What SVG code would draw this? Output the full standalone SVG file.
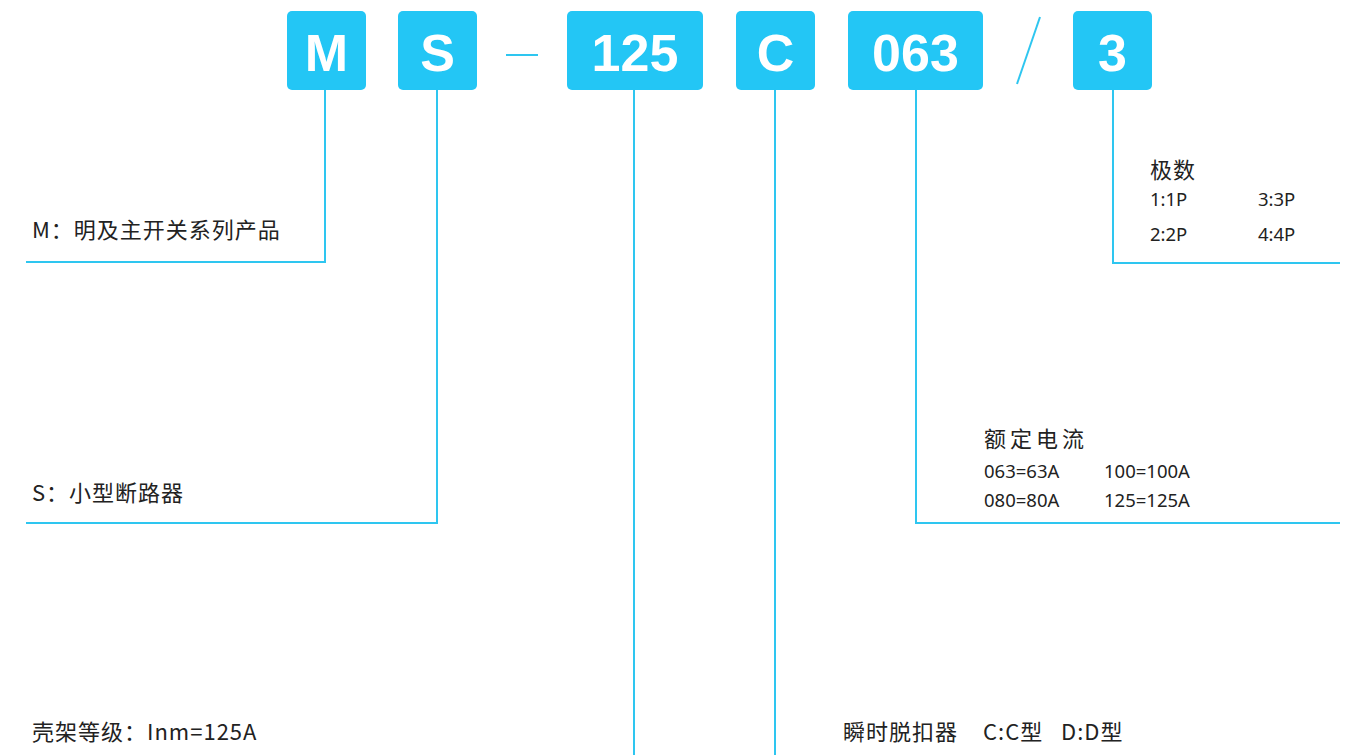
<svg xmlns="http://www.w3.org/2000/svg" width="1351" height="755" viewBox="0 0 1351 755">
<style>
.box{fill:#23c6f5}
.bt{fill:#fff;font-family:"Liberation Sans",Arial,sans-serif;font-weight:bold;font-size:52px;text-anchor:middle}
.ln{fill:none;stroke:#2ec6f0;stroke-width:2}
.t{fill:#222;font-family:"Noto Sans CJK SC","Noto Sans",sans-serif;font-size:22px;letter-spacing:1px}
.s{fill:#222;font-family:"Noto Sans","Noto Sans CJK SC",sans-serif;font-size:18.5px}
</style>
<rect width="1351" height="755" fill="#fff"/>
<g id="connectors">
<polyline class="ln" points="325,90 325,262 26,262"/>
<polyline class="ln" points="437,90 437,523 26,523"/>
<polyline class="ln" points="634,90 634,755"/>
<polyline class="ln" points="775,90 775,755"/>
<polyline class="ln" points="916,90 916,523 1340,523"/>
<polyline class="ln" points="1113,90 1113,263 1340,263"/>
<line class="ln" x1="506" y1="55" x2="538" y2="55" stroke-width="2.5"/>
<line class="ln" x1="1040" y1="17" x2="1017" y2="84" stroke-width="3"/>
</g>
<g id="box-M"><rect class="box" x="287" y="11" width="79" height="79" rx="5"/><text class="bt" x="326.5" y="71">M</text></g>
<g id="box-S"><rect class="box" x="398" y="11" width="79" height="79" rx="5"/><text class="bt" x="437.5" y="71">S</text></g>
<g id="box-125"><rect class="box" x="567" y="11" width="136" height="79" rx="5"/><text class="bt" x="635" y="71">125</text></g>
<g id="box-C"><rect class="box" x="736" y="11" width="79" height="79" rx="5"/><text class="bt" x="775.5" y="71">C</text></g>
<g id="box-063"><rect class="box" x="848" y="11" width="135" height="79" rx="5"/><text class="bt" x="915.5" y="71">063</text></g>
<g id="box-3"><rect class="box" x="1073" y="11" width="79" height="79" rx="5"/><text class="bt" x="1112.5" y="71">3</text></g>
<g id="label-M"><text class="t" x="32" y="238">M：明及主开关系列产品</text></g>
<g id="label-S"><text class="t" x="32" y="501">S：小型断路器</text></g>
<g id="label-125"><text class="t" x="32" y="740">壳架等级：Inm=125A</text></g>
<g id="label-C">
<text class="t" x="843" y="740">瞬时脱扣器</text>
<text class="t" x="983" y="740">C:C型</text>
<text class="t" x="1061" y="740">D:D型</text>
</g>
<g id="label-063">
<text class="t" x="984" y="447" style="letter-spacing:4px">额定电流</text>
<text class="s" x="984" y="478">063=63A</text><text class="s" x="1104" y="478">100=100A</text>
<text class="s" x="984" y="507">080=80A</text><text class="s" x="1104" y="507">125=125A</text>
</g>
<g id="label-3">
<text class="t" x="1150" y="178">极数</text>
<text class="s" x="1150" y="206">1:1P</text><text class="s" x="1258" y="206">3:3P</text>
<text class="s" x="1150" y="241">2:2P</text><text class="s" x="1258" y="241">4:4P</text>
</g>
</svg>
